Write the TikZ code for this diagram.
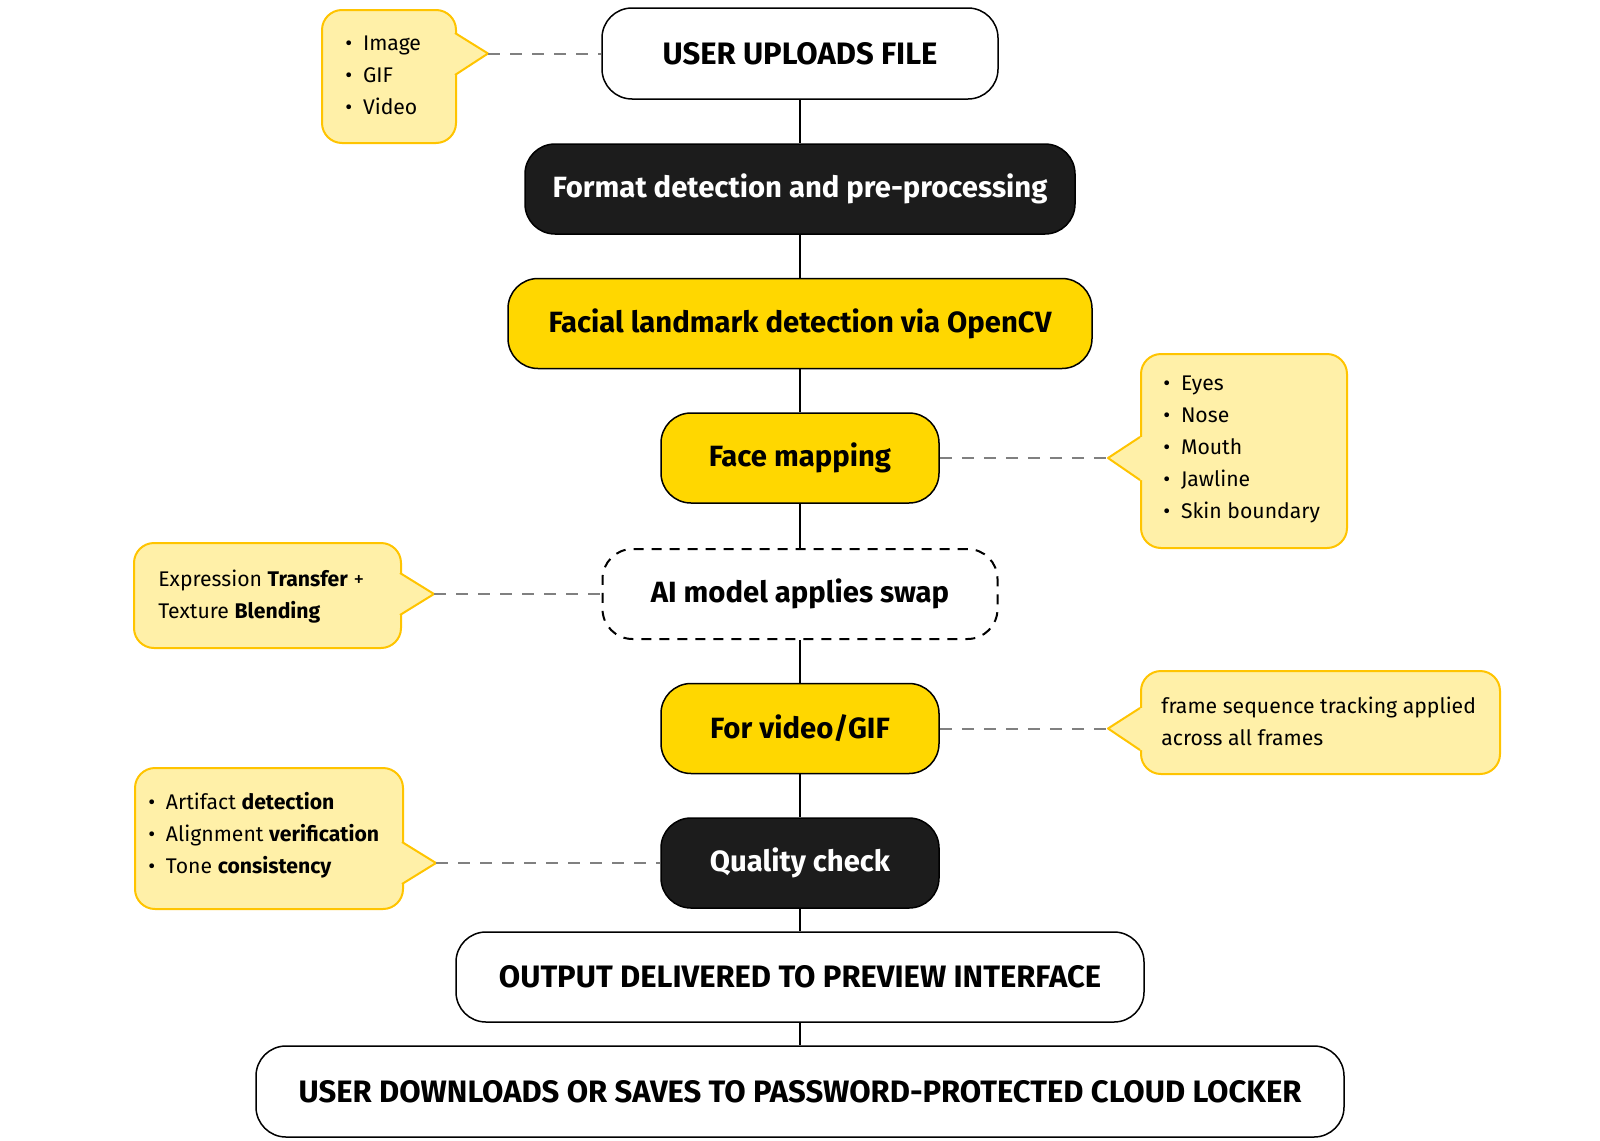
\documentclass[tikz,border=0pt]{standalone}
\usepackage{fontspec}
\setmainfont{Fira Sans}
\definecolor{cfill}{HTML}{FFF0A8}
\definecolor{cline}{HTML}{FFC400}
\definecolor{ygold}{HTML}{FFD700}
\definecolor{nblack}{HTML}{1C1C1C}
\definecolor{dgray}{HTML}{808080}
\newcommand\bul{\makebox[8.8pt][l]{\textbullet}}
\begin{document}
\begin{tikzpicture}[x=0.5pt,y=-0.5pt,
 flow/.style={draw=black, line width=0.75pt, rounded corners=15pt, minimum height=45pt, inner sep=0pt, font=\bfseries\fontsize{14.65}{16}\selectfont, text=black, fill=white},
 capsbox/.style={flow, font=\bfseries\fontsize{15.5}{17}\selectfont},
 darkbox/.style={flow, fill=nblack, text=white},
 yellowbox/.style={flow, fill=ygold},
 dashbox/.style={flow, dash pattern=on 5pt off 4pt, line width=1pt},
 callbody/.style={draw=cline, fill=cfill, line width=1pt, rounded corners=10pt, inner sep=0pt, anchor=north west},
 calltext/.style={anchor=west, align=left, inner sep=0pt, font=\fontsize{10.6}{16}\selectfont},
 ptrfill/.style={fill=cfill},
 ptrline/.style={draw=cline, line width=1pt, line join=round},
 link/.style={draw=black, line width=1pt},
 dashlink/.style={draw=dgray, line width=1pt, dash pattern=on 6pt off 5pt},
]
\useasboundingbox (0,0) rectangle (1600,1140);
\fill[white] (0,0) rectangle (1600,1140);

% main flow
\node[capsbox, minimum width=198pt, minimum height=45.5pt] (n1) at (800,53.5) {USER UPLOADS FILE};
\node[darkbox, minimum width=275pt] (n2) at (800,189) {Format detection and pre-processing};
\node[yellowbox, minimum width=292pt] (n3) at (800,323.5) {Facial landmark detection via OpenCV};
\node[yellowbox, minimum width=139pt] (n4) at (800,458) {Face mapping};
\node[dashbox, minimum width=197.5pt] (n5) at (800,594) {AI model applies swap};
\node[yellowbox, minimum width=139pt] (n6) at (800,728.5) {For video/GIF};
\node[darkbox, minimum width=139pt] (n7) at (800,863) {Quality check};
\node[capsbox, minimum width=344pt] (n8) at (800,977) {OUTPUT DELIVERED TO PREVIEW INTERFACE};
\node[capsbox, minimum width=544pt, minimum height=45.5pt] (n9) at (800,1091.5) {USER DOWNLOADS OR SAVES TO PASSWORD-PROTECTED CLOUD LOCKER};

\draw[link] (n1.south) -- (n2.north);
\draw[link] (n2.south) -- (n3.north);
\draw[link] (n3.south) -- (n4.north);
\draw[link] (n4.south) -- (n5.north);
\draw[link] (n5.south) -- (n6.north);
\draw[link] (n6.south) -- (n7.north);
\draw[link] (n7.south) -- (n8.north);
\draw[link] (n8.south) -- (n9.north);

% callout A
\node[callbody, minimum width=67pt, minimum height=66.5pt] (cA) at (321,9) {};
\fill[ptrfill] (450,33) -- (456,33) -- (488,53.5) -- (456,75) -- (450,75) -- cycle;
\draw[ptrline] (455,33) -- (488,53.5) -- (455,75);
\coordinate (tA) at (488,53.5);
\node[calltext] (xA) at (345,75) {\bul Image\\\bul GIF\\\bul Video};
\draw[dashlink] (tA) -- (n1.west);

% callout B
\node[callbody, minimum width=103pt, minimum height=97pt] (cB) at (1140,353) {};
\fill[ptrfill] (1145,437) -- (1139,437) -- (1108,458) -- (1139,480) -- (1145,480) -- cycle;
\draw[ptrline] (1140,437) -- (1108,458) -- (1140,480);
\coordinate (tB) at (1108,458);
\node[calltext] (xB) at (1163,449.5) {\bul Eyes\\\bul Nose\\\bul Mouth\\\bul Jawline\\\bul Skin boundary};
\draw[dashlink] (n4.east) -- (tB);

% callout C
\node[callbody, minimum width=133.5pt, minimum height=52.5pt] (cC) at (133,542) {};
\fill[ptrfill] (395,573) -- (401,573) -- (434,594) -- (401,615) -- (395,615) -- cycle;
\draw[ptrline] (400,573) -- (434,594) -- (400,615);
\coordinate (tC) at (434,594);
\node[calltext] (xC) at (158,596.5) {Expression \textbf{Transfer} +\\Texture \textbf{Blending}};
\draw[dashlink] (tC) -- (n5.west);

% callout D
\node[callbody, minimum width=179.5pt, minimum height=51.5pt] (cD) at (1140,670) {};
\fill[ptrfill] (1145,708) -- (1139,708) -- (1108,728.5) -- (1139,750) -- (1145,750) -- cycle;
\draw[ptrline] (1140,708) -- (1108,728.5) -- (1140,750);
\coordinate (tD) at (1108,728.5);
\node[calltext] (xD) at (1161,721) {frame sequence tracking applied\\across all frames};
\draw[dashlink] (n6.east) -- (tD);

% callout E
\node[callbody, minimum width=134pt, minimum height=70.5pt] (cE) at (134,767) {};
\fill[ptrfill] (397,842) -- (403,842) -- (436,863) -- (403,884) -- (397,884) -- cycle;
\draw[ptrline] (402,842) -- (436,863) -- (402,884);
\coordinate (tE) at (436,863);
\node[calltext] (xE) at (148,835) {\bul Artifact \textbf{detection}\\\bul Alignment \textbf{verification}\\\bul Tone \textbf{consistency}};
\draw[dashlink] (tE) -- (n7.west);
\end{tikzpicture}
\end{document}
